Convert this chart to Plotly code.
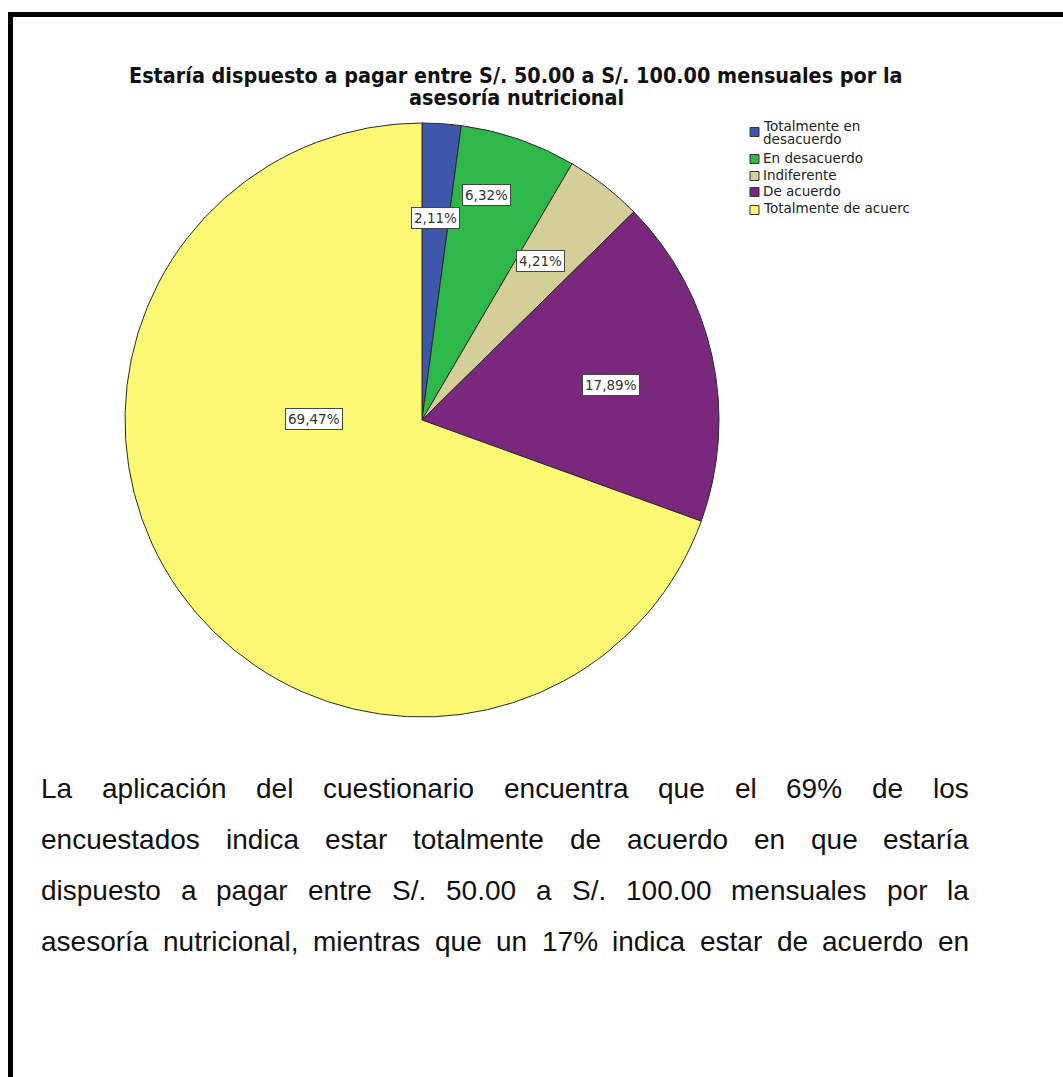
import plotly.graph_objects as go

# --- data ---------------------------------------------------------------
categories = [
    "Totalmente en desacuerdo",
    "En desacuerdo",
    "Indiferente",
    "De acuerdo",
    "Totalmente de acuerdo",
]
legend_names = [
    ["Totalmente en", "desacuerdo"],
    ["En desacuerdo"],
    ["Indiferente"],
    ["De acuerdo"],
    ["Totalmente de acuerc"],
]
percentages = [2.11, 6.32, 4.21, 17.89, 69.47]
slice_colors = ["#3F57AB", "#2FB84A", "#D4CE98", "#7A287D", "#FBF874"]

title_lines = [
    "Estaría dispuesto a pagar entre S/. 50.00 a S/. 100.00 mensuales por la",
    "asesoría nutricional",
]

paragraph_lines = [
    "La aplicación del cuestionario encuentra que el 69% de los",
    "encuestados indica estar totalmente de acuerdo en que estaría",
    "dispuesto a pagar entre S/. 50.00 a S/. 100.00 mensuales por la",
    "asesoría nutricional, mientras que un 17% indica estar de acuerdo en",
]

# --- page geometry ------------------------------------------------------
W, H = 1063, 1077


def px(x):
    return x / W


def py(y):
    return 1 - y / H


cx, cy, r = 422, 420, 297

# label box centres (pixels), one per slice
label_xy = [(435, 218), (486, 195), (540, 261), (611, 385), (314, 419)]

fig = go.Figure(
    go.Pie(
        labels=categories,
        values=percentages,
        sort=False,
        direction="clockwise",
        rotation=0,
        marker=dict(colors=slice_colors, line=dict(color="#2a2a2a", width=1)),
        textinfo="none",
        hoverinfo="label+percent",
        domain=dict(x=[px(cx - r), px(cx + r)], y=[py(cy + r), py(cy - r)]),
        showlegend=False,
    )
)

annotations = []
shapes = []

# percentage labels in white boxes
for v, (lx, ly) in zip(percentages, label_xy):
    annotations.append(dict(
        x=px(lx), y=py(ly), xref="paper", yref="paper",
        text=f"{v:.2f}%".replace(".", ","), showarrow=False,
        font=dict(family="DejaVu Sans", size=13.5, color="#333333"),
        bgcolor="white", bordercolor="#444444", borderwidth=1, borderpad=2,
        xanchor="center", yanchor="middle",
    ))

# chart title
for i, line in enumerate(title_lines):
    annotations.append(dict(
        x=px(516), y=py(75 + i * 22), xref="paper", yref="paper",
        text=f"<b>{line}</b>", showarrow=False,
        font=dict(family="DejaVu Sans Condensed, DejaVu Sans", size=21.4, color="#111111"),
        xanchor="center", yanchor="middle", borderpad=0,
    ))

# legend: swatches and (possibly two-line) names
swatch_rows = [132, 159, 176, 192, 210]
text_rows = [[126, 139], [158], [175], [191], [208]]
for names, col, sy, rows in zip(legend_names, slice_colors, swatch_rows, text_rows):
    shapes.append(dict(
        type="rect", xref="paper", yref="paper",
        x0=px(750), x1=px(759), y0=py(sy + 4.5), y1=py(sy - 4.5),
        fillcolor=col, line=dict(color="#333333", width=1),
    ))
    for name, ty in zip(names, rows):
        annotations.append(dict(
            x=px(762), y=py(ty), xref="paper", yref="paper",
            text=name, showarrow=False,
            font=dict(family="DejaVu Sans", size=13.5, color="#222222"),
            xanchor="left", yanchor="middle", borderpad=0,
        ))

# justified body text (Arial / Liberation Sans advance widths, 1/1000 em)
ARIAL = {
    " ": 278, "L": 556, "S": 667, "a": 556, "c": 500, "d": 556, "e": 556,
    "g": 556, "i": 222, "l": 222, "m": 833, "n": 556, "o": 556, "p": 556,
    "q": 556, "r": 333, "s": 500, "t": 278, "u": 556, "í": 278, "ó": 556,
    "%": 889, "/": 278, ".": 278, ",": 278,
    "0": 556, "1": 556, "5": 556, "6": 556, "7": 556, "9": 556,
}
body_size = 28
left, right = 40, 968


def word_width(w):
    return sum(ARIAL.get(c, 556) for c in w) * body_size / 1000


for i, line in enumerate(paragraph_lines):
    words = line.split()
    total = sum(word_width(w) for w in words)
    gap = (right - left - total) / (len(words) - 1)
    x = left
    for w in words:
        annotations.append(dict(
            x=px(x), y=py(788 + i * 51), xref="paper", yref="paper",
            text=w, showarrow=False,
            font=dict(family="Liberation Sans, Arial", size=body_size, color="#111111"),
            xanchor="left", yanchor="middle", borderpad=0,
        ))
        x += word_width(w) + gap

# page frame (top and left rules)
shapes.append(dict(
    type="path", xref="paper", yref="paper",
    path=f"M {px(10.5)},{py(H + 5)} L {px(10.5)},{py(14.5)} L {px(W + 5)},{py(14.5)}",
    line=dict(color="black", width=5),
))

fig.update_layout(
    width=W, height=H,
    margin=dict(l=0, r=0, t=0, b=0),
    paper_bgcolor="white", plot_bgcolor="white",
    annotations=annotations, shapes=shapes,
    showlegend=False,
)

fig.write_html("out.html")
